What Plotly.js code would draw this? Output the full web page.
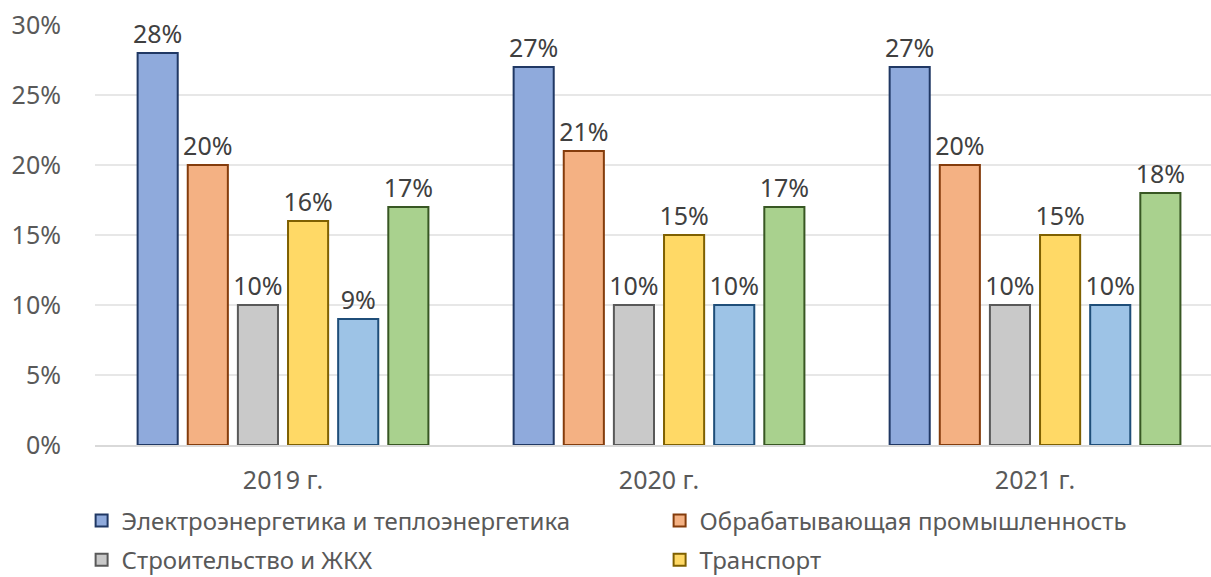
<!DOCTYPE html>
<html>
<head>
<meta charset="utf-8">
<script src="https://cdn.plot.ly/plotly-3.0.1.min.js"></script>
<style>html,body{margin:0;padding:0;background:#fff}#chart{width:1211px;height:577px}</style>
</head>
<body>
<div id="chart"></div>
<script>
const years = ['2019 г.', '2020 г.', '2021 г.'];
const seriesNames = [
  'Электроэнергетика и теплоэнергетика',
  'Обрабатывающая промышленность',
  'Строительство и ЖКХ',
  'Транспорт',
  'Сельское хозяйство',
  'Прочие'
];
const energy = [28, 27, 27];
const manufacturing = [20, 21, 20];
const construction = [10, 10, 10];
const transport = [16, 15, 15];
const series5 = [9, 10, 10];
const series6 = [17, 17, 18];
const yTicks = [0, 5, 10, 15, 20, 25, 30];

const values = [energy, manufacturing, construction, transport, series5, series6];
const fills = ['#8FAADC', '#F4B183', '#C9C9C9', '#FFD966', '#9DC3E6', '#A9D18E'];
const lines = ['#203864', '#843C0C', '#595959', '#7F6000', '#1F4E79', '#385723'];
const legends = ['legend', 'legend', 'legend2', 'legend2', 'legend', 'legend'];
const shown = [true, true, true, true, false, false];

const FONT = 'Noto Sans, Open Sans, sans-serif';
const traces = values.map((v, i) => ({
  type: 'bar',
  name: seriesNames[i],
  x: years,
  y: v,
  text: v.map(d => d + '%'),
  textposition: 'outside',
  constraintext: 'none',
  textfont: {family: FONT, size: 25, color: '#404040'},
  cliponaxis: false,
  hoverinfo: 'none',
  marker: {color: fills[i], line: {color: lines[i], width: 2}},
  legend: legends[i],
  showlegend: shown[i]
}));

const layout = {
  width: 1211, height: 577,
  margin: {l: 95, r: 0, t: 25, b: 132, autoexpand: false},
  paper_bgcolor: '#fff', plot_bgcolor: '#fff',
  font: {family: FONT, color: '#595959', size: 25},
  barmode: 'group', bargap: 0.2, bargroupgap: 0.2,
  xaxis: {
    range: [-0.5, 2.468],
    showgrid: false, zeroline: false,
    showline: true, linecolor: '#D9D9D9', linewidth: 1.5,
    ticks: 'outside', ticklen: 12, tickcolor: 'rgba(0,0,0,0)',
    tickfont: {family: FONT, size: 25, color: '#595959'}
  },
  yaxis: {
    range: [0, 30],
    tickvals: yTicks, ticktext: yTicks.map(t => t + '%'),
    showgrid: true, gridcolor: '#E7E7E7', gridwidth: 1.5,
    zeroline: false, showline: false,
    ticks: 'outside', ticklen: 28, tickcolor: 'rgba(0,0,0,0)',
    tickfont: {family: FONT, size: 25, color: '#595959'}
  },
  legend: {
    orientation: 'h', x: -0.012, y: -0.181, xanchor: 'left', yanchor: 'middle',
    entrywidth: 533, entrywidthmode: 'pixels', traceorder: 'normal',
    font: {family: FONT, size: 24, color: '#595959'}, bgcolor: 'rgba(0,0,0,0)'
  },
  legend2: {
    orientation: 'h', x: -0.012, y: -0.274, xanchor: 'left', yanchor: 'middle',
    entrywidth: 533, entrywidthmode: 'pixels', traceorder: 'normal',
    font: {family: FONT, size: 24, color: '#595959'}, bgcolor: 'rgba(0,0,0,0)'
  }
};

Plotly.newPlot('chart', traces, layout, {displayModeBar: false, staticPlot: true});
</script>
</body>
</html>
